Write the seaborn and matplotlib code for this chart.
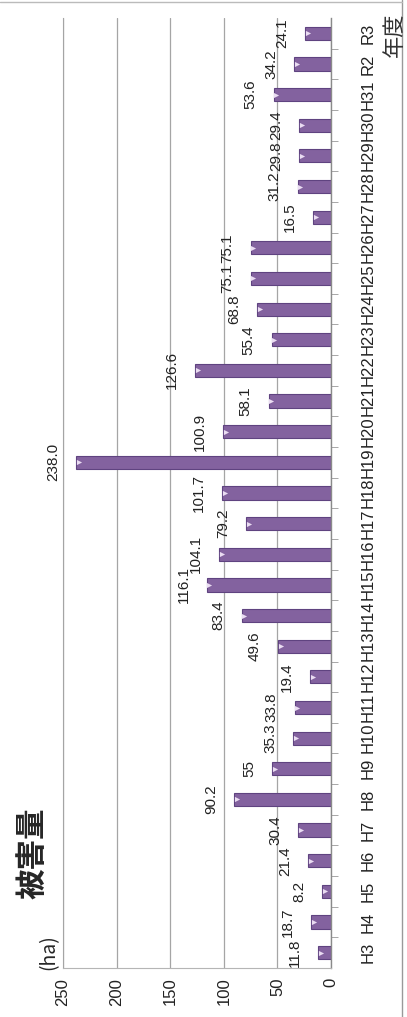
import matplotlib
matplotlib.use("Agg")
import matplotlib.pyplot as plt
from matplotlib.lines import Line2D
import seaborn as sns
import pandas as pd

# 被害量 by fiscal year (ha)
years = ["H3", "H4", "H5", "H6", "H7", "H8", "H9", "H10", "H11", "H12",
         "H13", "H14", "H15", "H16", "H17", "H18", "H19", "H20", "H21", "H22",
         "H23", "H24", "H25", "H26", "H27", "H28", "H29", "H30", "H31", "R2", "R3"]
damage = [11.8, 18.7, 8.2, 21.4, 30.4, 90.2, 55, 35.3, 33.8, 19.4,
          49.6, 83.4, 116.1, 104.1, 79.2, 101.7, 238.0, 100.9, 58.1, 126.6,
          55.4, 68.8, 75.1, 75.1, 16.5, 31.2, 29.8, 29.4, 53.6, 34.2, 24.1]
labels = ["11.8", "18.7", "8.2", "21.4", "30.4", "90.2", "55", "35.3", "33.8", "19.4",
          "49.6", "83.4", "116.1", "104.1", "79.2", "101.7", "238.0", "100.9", "58.1", "126.6",
          "55.4", "68.8", "75.1", "75.1", "16.5", "31.2", "29.8", "29.4", "53.6", "34.2", "24.1"]
value_ticks = [0, 50, 100, 150, 200, 250]

df = pd.DataFrame({"year": years, "damage": damage})

sns.set_style("white")
plt.rcParams["font.family"] = ["Liberation Sans", "DejaVu Sans"]

fig = plt.figure(figsize=(4.07, 10.17), dpi=100)
ax = fig.add_axes([0.1548, 0.0482, 0.6585, 0.9341])

sns.barplot(data=df, x="damage", y="year", orient="h", order=years,
            color="#83629f", edgecolor="#5f4380", linewidth=0.8,
            width=0.43, saturation=1, ax=ax)

# small light marker at the end of each bar
ax.scatter([v - 2.5 for v in damage], range(len(years)), marker=">",
           s=14, color="#eadcf2", zorder=4, linewidths=0)

ax.set_ylim(-0.5, len(years) - 0.5)
ax.set_xlim(250, 0)
ax.set_xlabel("")
ax.set_ylabel("")

# value labels, rotated like the chart
for i, (v, t) in enumerate(zip(damage, labels)):
    ax.text(v + 15, i, t, rotation=90, ha="right", va="center",
            fontsize=11, color="#222222")

ax.set_xticks(value_ticks)
ax.set_xticklabels([str(t) for t in value_ticks], rotation=90, fontsize=12)
ax.tick_params(axis="x", length=0, pad=7, colors="#222222")

ax.yaxis.tick_right()
ax.set_yticks(range(len(years)))
ax.set_yticklabels(years, rotation=90, va="center", fontsize=12)
ax.tick_params(axis="y", which="major", length=0, pad=21, colors="#222222")
ax.set_yticks([i + 0.5 for i in range(len(years) - 1)], minor=True)
ax.tick_params(axis="y", which="minor", right=True, length=5, color="#999999")

ax.xaxis.grid(True, color="#a5a5a5", linewidth=0.9)
ax.set_axisbelow(True)
ax.spines["top"].set_visible(False)
ax.spines["left"].set_color("#a5a5a5")
ax.spines["bottom"].set_color("#b5b5b5")
ax.spines["right"].set_color("#8a8a8a")
ax.spines["right"].set_linewidth(1.0)

fig.text(0.079, 0.161, "被害量", rotation=90, ha="center", va="center",
         fontsize=22, fontweight="bold", family=["Noto Sans CJK JP"])
fig.text(0.12, 0.064, "(ha)", rotation=90, ha="center", va="center",
         fontsize=14, family=["Noto Sans CJK JP"])
fig.text(0.97, 0.966, "年度", rotation=90, ha="center", va="center",
         fontsize=16, family=["Noto Sans CJK JP"], color="#333333")

# scanned chart frame
fig.add_artist(Line2D([402 / 407, 402 / 407], [0, 1], color="#999999",
                      linewidth=1, transform=fig.transFigure))
fig.add_artist(Line2D([0, 402 / 407], [1 - 2 / 1017, 1 - 2 / 1017], color="#bbbbbb",
                      linewidth=1, transform=fig.transFigure))

fig.savefig("out.png", dpi=100)
